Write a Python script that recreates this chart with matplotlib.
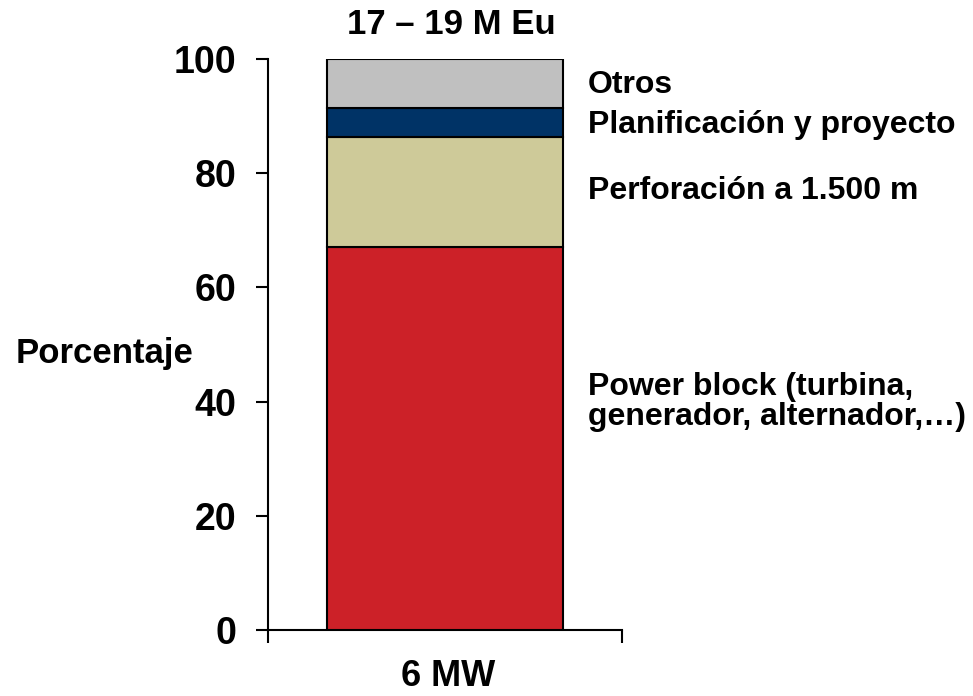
import numpy as np
import matplotlib
matplotlib.use('Agg')
import matplotlib.pyplot as plt

plt.rcParams['font.family'] = ['Liberation Sans', 'DejaVu Sans']
plt.rcParams['font.weight'] = 'bold'

# data (percent of total cost, bottom to top)
categories = ['Power block (turbina,\ngenerador, alternador,\u2026)',
              'Perforaci\u00f3n a 1.500 m',
              'Planificaci\u00f3n y proyecto',
              'Otros']
shares     = [67.0, 19.4, 5.0, 8.6]
colors     = ['#CC2128', '#CECA99', '#003366', '#C0C0C0']
label_y    = [40.0, 76.8, 88.5, 95.5]        # where the side labels sit (data units)
bar_name   = '6 MW'
bar_title  = '17 \u2013 19 M Eu'
yticks     = [0, 20, 40, 60, 80, 100]

fig = plt.figure(figsize=(9.73, 6.96), dpi=100)
ax = fig.add_axes([268/973, 66/696, 354/973, 571/696])

bottoms = np.concatenate([[0], np.cumsum(shares)[:-1]])
ax.bar([0]*len(shares), shares, bottom=bottoms, width=0.664, color=colors,
       edgecolor='black', linewidth=1.5, zorder=3)

ax.set_xlim(-0.5, 0.5)
ax.set_ylim(0, 100)
ax.set_yticks(yticks)
ax.set_xticks([-0.5, 0.5])
ax.set_xticklabels(['', ''])
ax.tick_params(axis='both', direction='out', length=9, width=1.5, labelsize=27, pad=14)
for s in ['top', 'right']:
    ax.spines[s].set_visible(False)
for s in ['left', 'bottom']:
    ax.spines[s].set_linewidth(1.5)
    ax.spines[s].set_clip_on(False)

# side labels
for txt, yy in zip(categories, label_y):
    ax.annotate(txt, xy=(1, yy), xycoords=('axes fraction', 'data'),
                xytext=(-34, 0), textcoords='offset pixels',
                ha='left', va='center', fontsize=23, fontweight='bold',
                linespacing=1.0, annotation_clip=False)

ax.annotate(bar_title, xy=(0, 100), xycoords='data', xytext=(6, 34),
            textcoords='offset pixels', ha='center', va='center',
            fontsize=25, fontweight='bold', annotation_clip=False)
ax.annotate(bar_name, xy=(0, 0), xycoords='data', xytext=(3, -47),
            textcoords='offset pixels', ha='center', va='center',
            fontsize=26, fontweight='bold', annotation_clip=False)
ax.annotate('Porcentaje', xy=(0, 0.485), xycoords='axes fraction', xytext=(-75, 0),
            textcoords='offset pixels', ha='right', va='center',
            fontsize=25, fontweight='bold', annotation_clip=False)

plt.savefig('out.png', dpi=100)
